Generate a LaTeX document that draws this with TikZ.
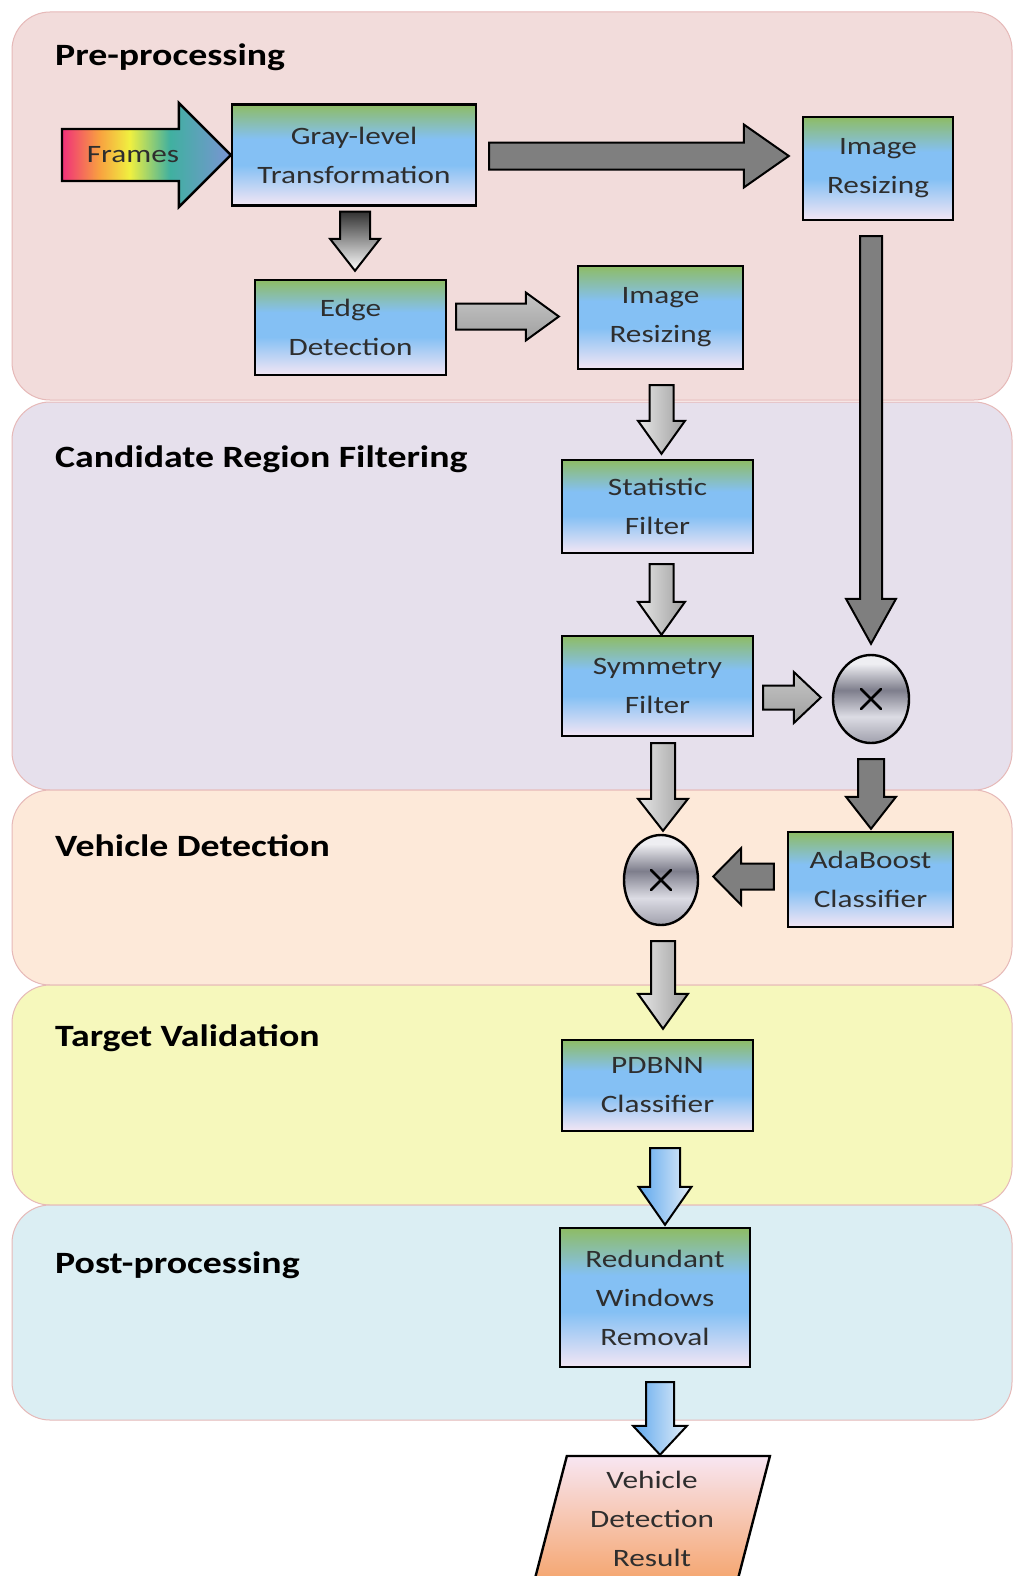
\documentclass[tikz,border=0pt]{standalone}
\usepackage{fontspec}
\usetikzlibrary{calc,shapes.geometric}
\newfontfamily\boxfam[FakeStretch=1.25]{Carlito}
\newfontfamily\titlefam[FakeStretch=1.22]{Carlito}
\newcommand{\boxtext}{\boxfam\fontsize{25}{39}\selectfont}
\newcommand{\titletext}{\titlefam\bfseries\fontsize{31}{36}\selectfont}

\definecolor{bandpre}{HTML}{F2DCDB}
\definecolor{bandcand}{HTML}{E6E0EC}
\definecolor{bandveh}{HTML}{FDE9D9}
\definecolor{bandtgt}{HTML}{F6F8BC}
\definecolor{bandpost}{HTML}{DBEEF3}
\definecolor{bandline}{HTML}{E6B9B8}
\definecolor{boxtop}{HTML}{8EBC64}
\definecolor{boxmid}{HTML}{84C0F4}
\definecolor{boxbot}{HTML}{F3E6F4}
\definecolor{darkfill}{HTML}{7F7F7F}
\definecolor{txt}{HTML}{2E2E2E}
\definecolor{blueA}{HTML}{5EA8EE}
\definecolor{blueB}{HTML}{E4EEF8}
\definecolor{parTop}{HTML}{F8E6F2}
\definecolor{parMid}{HTML}{F9C98E}
\definecolor{parBot}{HTML}{F5A56E}
\definecolor{rb1}{HTML}{F0307A}
\definecolor{rb2}{HTML}{F8A040}
\definecolor{rb3}{HTML}{F0F040}
\definecolor{rb4}{HTML}{40B0A0}
\definecolor{rb5}{HTML}{7A94D4}
\definecolor{mb1}{HTML}{A0A0AC}
\definecolor{mb2}{HTML}{DCDCE4}
\definecolor{mb3}{HTML}{7E7E8C}
\definecolor{mb4}{HTML}{EEEEF2}

\pgfdeclareverticalshading{boxshade}{100bp}{color(0bp)=(boxbot); color(25bp)=(boxbot); color(45bp)=(boxmid); color(58bp)=(boxmid); color(75bp)=(boxtop); color(100bp)=(boxtop)}
\pgfdeclarehorizontalshading{rainbow}{100bp}{color(0bp)=(rb1); color(25bp)=(rb1); color(36bp)=(rb2); color(45bp)=(rb3); color(57bp)=(rb4); color(75bp)=(rb5); color(100bp)=(rb5)}
\pgfdeclareverticalshading{metalball}{100bp}{color(0bp)=(mb1); color(25bp)=(mb1); color(40bp)=(mb2); color(55bp)=(mb3); color(70bp)=(mb4); color(75bp)=(mb4); color(100bp)=(mb4)}

% block arrows: style, from, to, shaft half width, head half width, head length
\newcommand{\arrowdown}[6]{%
 \path[#1] let \p1=#2, \p2=#3 in
 (\x1-#4,\y1) -- (\x1+#4,\y1) -- (\x1+#4,\y2+#6) -- (\x1+#5,\y2+#6) -- (\x1,\y2) -- (\x1-#5,\y2+#6) -- (\x1-#4,\y2+#6) -- cycle;}
\newcommand{\arrowright}[6]{%
 \path[#1] let \p1=#2, \p2=#3 in
 (\x1,\y1+#4) -- (\x2-#6,\y1+#4) -- (\x2-#6,\y1+#5) -- (\x2,\y1) -- (\x2-#6,\y1-#5) -- (\x2-#6,\y1-#4) -- (\x1,\y1-#4) -- cycle;}
\newcommand{\arrowleft}[6]{%
 \path[#1] let \p1=#2, \p2=#3 in
 (\x1,\y1+#4) -- (\x2+#6,\y1+#4) -- (\x2+#6,\y1+#5) -- (\x2,\y1) -- (\x2+#6,\y1-#5) -- (\x2+#6,\y1-#4) -- (\x1,\y1-#4) -- cycle;}

\begin{document}
\begin{tikzpicture}[x=1pt,y=-1pt,
  band/.style={draw=bandline, line width=1pt, rounded corners=38pt},
  title/.style={font=\titletext, text=black, anchor=base west, inner sep=0pt},
  procbox/.style={draw=black, line width=2.4pt, shade, shading=boxshade, align=center, font=\boxtext, text=txt, inner sep=0pt},
  mult/.style={ellipse, draw=black, line width=2.4pt, shade, shading=metalball, inner sep=0pt},
  darkarr/.style={fill=darkfill, draw=black, line width=2pt, line join=miter},
  metalV/.style={draw=black, line width=2pt, line join=miter, left color=gray!20, right color=gray!75},
  metalH/.style={draw=black, line width=2pt, line join=miter, top color=gray!45, middle color=gray!8, bottom color=gray!75},
  fadearr/.style={draw=black, line width=2pt, line join=miter, top color=black!80, bottom color=white},
  bluearr/.style={draw=black, line width=2pt, line join=miter, left color=blueA, right color=blueB},
  framesarr/.style={draw=black, line width=2.4pt, line join=miter, shade, shading=rainbow},
  timesmark/.style={line width=2.6pt, line cap=round}
]
\fill[white] (0,0) rectangle (1015,1576);
\useasboundingbox (0,0) rectangle (1015,1576);

% bands
\path[band, fill=bandpre] (12,12) rectangle (1012,400);
\path[band, fill=bandcand] (12,402) rectangle (1012,790);
\path[band, fill=bandveh] (12,790) rectangle (1012,985);
\path[band, fill=bandtgt] (12,985) rectangle (1012,1205);
\path[band, fill=bandpost] (12,1205) rectangle (1012,1420);

% titles
\node[title] (tpre) at (55,66) {Pre-processing};
\node[title] (tcand) at (55,467) {Candidate Region Filtering};
\node[title] (tveh) at (55,856) {Vehicle Detection};
\node[title] (ttgt) at (55,1046) {Target Validation};
\node[title] (tpost) at (55,1273) {Post-processing};

% process boxes
\node[procbox, minimum width=244pt, minimum height=101pt] (gray) at (354,155) {Gray-level\\Transformation};
\node[procbox, minimum width=150pt, minimum height=103pt] (resizeR) at (878,168.5) {Image\\Resizing};
\node[procbox, minimum width=191pt, minimum height=95pt] (edge) at (350.5,327.5) {Edge\\Detection};
\node[procbox, minimum width=165pt, minimum height=103pt] (resizeM) at (660.5,317.5) {Image\\Resizing};
\node[procbox, minimum width=191pt, minimum height=93pt] (stat) at (657.5,506.5) {Statistic\\Filter};
\node[procbox, minimum width=191pt, minimum height=100pt] (sym) at (657.5,686) {Symmetry\\Filter};
\node[procbox, minimum width=165pt, minimum height=95pt] (ada) at (870.5,879.5) {AdaBoost\\Classifier};
\node[procbox, minimum width=191pt, minimum height=91pt] (pdbnn) at (657.5,1085.5) {PDBNN\\Classifier};
\node[procbox, minimum width=190pt, minimum height=139pt] (redund) at (655,1297.5) {Redundant\\Windows\\Removal};
\node[trapezium, trapezium left angle=76, trapezium right angle=104, trapezium stretches=true,
      minimum width=236pt, minimum height=126pt, inner sep=0pt, draw=black, line width=2.4pt,
      top color=parTop, middle color=parMid, bottom color=parBot,
      align=center, font=\boxtext, text=txt] (result) at (652,1519) {Vehicle\\Detection\\Result};

% multipliers
\node[mult, minimum width=76pt, minimum height=88pt] (c1) at (871,699) {};
\node[mult, minimum width=74pt, minimum height=90pt] (c2) at (661,880) {};
\draw[timesmark] ($(c1)+(-10,-10)$) -- ($(c1)+(10,10)$) ($(c1)+(-10,10)$) -- ($(c1)+(10,-10)$);
\draw[timesmark] ($(c2)+(-10,-10)$) -- ($(c2)+(10,10)$) ($(c2)+(-10,10)$) -- ($(c2)+(10,-10)$);

% input arrow
\coordinate (fstart) at (62,155);
\arrowright{framesarr}{(fstart)}{(gray.west)}{26pt}{52pt}{52pt}
\node[font=\boxtext, text=txt, inner sep=0pt] (frames) at (133,155) {Frames};

% connectors
\arrowright{darkarr}{($(gray.east)+(12,1)$)}{($(resizeR.west)+(-13,0)$)}{13.5pt}{31.5pt}{45pt}
\arrowdown{fadearr}{($(gray.south)+(1,5)$)}{($(edge.north)+(0,-8)$)}{15pt}{25pt}{32pt}
\arrowright{metalH}{($(edge.east)+(9,-11)$)}{($(resizeM.west)+(-18,0)$)}{13pt}{24pt}{33pt}
\arrowdown{metalV}{($(resizeM.south)+(1,15)$)}{($(stat.north)+(0,-5)$)}{12pt}{23.5pt}{33pt}
\arrowdown{metalV}{($(stat.south)+(4,10)$)}{(sym.north)}{12pt}{23.5pt}{33pt}
\arrowright{metalH}{($(sym.east)+(9,11.5)$)}{($(c1.west)+(-11,0)$)}{12pt}{25.5pt}{27pt}
\arrowdown{darkarr}{($(resizeR.south)+(-7,15)$)}{($(c1.north)+(0,-10)$)}{11pt}{25pt}{45pt}
\arrowdown{darkarr}{($(c1.south)+(0,15)$)}{($(ada.north)+(0,-2)$)}{13pt}{25pt}{32pt}
\arrowleft{darkarr}{($(ada.west)+(-13,-3)$)}{($(c2.east)+(14,0)$)}{13pt}{28.5pt}{28pt}
\arrowdown{metalV}{($(sym.south)+(5.5,6)$)}{($(c2.north)+(0,-3)$)}{12pt}{25pt}{32pt}
\arrowdown{metalV}{($(c2.south)+(2,15)$)}{($(pdbnn.north)+(0,-10)$)}{12pt}{25pt}{35pt}
\arrowdown{bluearr}{($(pdbnn.south)+(7.5,16)$)}{($(redund.north)+(0,-2)$)}{15pt}{26.5pt}{38pt}
\arrowdown{bluearr}{($(redund.south)+(5,14)$)}{(result.north)}{14pt}{27pt}{29pt}
\end{tikzpicture}
\end{document}
